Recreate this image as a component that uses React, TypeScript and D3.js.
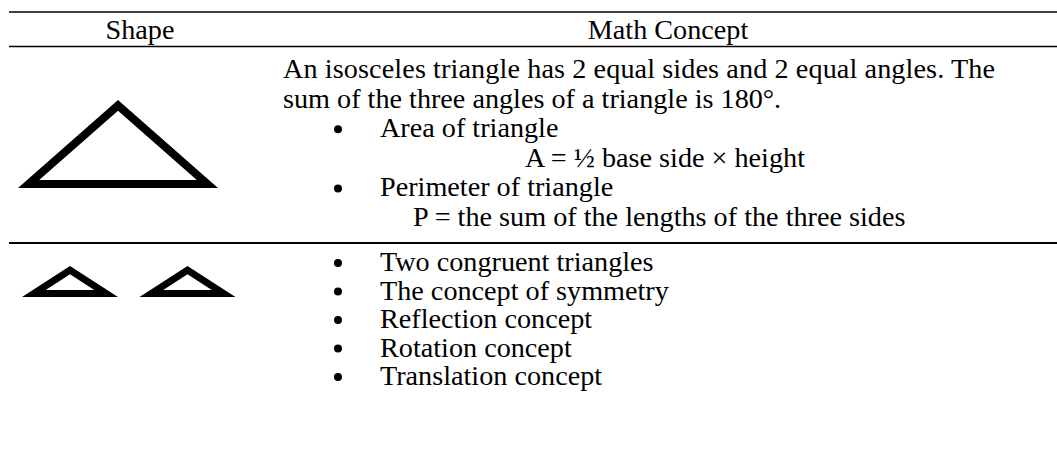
import React from "react";
import * as d3 from "d3";

const W = 1057;
const H = 456;

// ---- content ----
const headers = ["Shape", "Math Concept"];
const row1Paragraph = [
  "An isosceles triangle has 2 equal sides and 2 equal angles. The",
  "sum of the three angles of a triangle is 180°.",
];
const row1Bullets = ["Area of triangle", "Perimeter of triangle"];
const row1Formulas = ["A = ½ base side × height", "P = the sum of the lengths of the three sides"];
const row2Bullets = [
  "Two congruent triangles",
  "The concept of symmetry",
  "Reflection concept",
  "Rotation concept",
  "Translation concept",
];
// triangle icons: centre x, base y, width, height, outline thickness
const triangleIcons = [
  { cx: 118, base: 188, w: 200, h: 88, t: 8 },
  { cx: 70, base: 297, w: 96, h: 31, t: 7 },
  { cx: 187.5, base: 297, w: 96, h: 31, t: 7 },
];

const FONT = '"Liberation Serif", Tinos, "Times New Roman", Times, "DejaVu Serif", serif';
const FS = 28.2;

function trianglePath(cx: number, base: number, w: number, h: number, t: number) {
  const hw = w / 2;
  const side = Math.hypot(hw, h);
  const s = (w + 2 * side) / 2;
  const r = (w * h) / 2 / s;
  const iy = base - r;
  const k = (r - t) / r;
  const p = d3.path();
  p.moveTo(cx - hw, base);
  p.lineTo(cx + hw, base);
  p.lineTo(cx, base - h);
  p.closePath();
  p.moveTo(cx - hw * k, iy + (base - iy) * k);
  p.lineTo(cx + hw * k, iy + (base - iy) * k);
  p.lineTo(cx, iy - (iy - (base - h)) * k);
  p.closePath();
  return p.toString();
}

export default function App() {
  const colX = d3.scaleOrdinal<string, number>().domain(headers).range([140, 668]);
  const row1Y = d3.scaleLinear().domain([0, 5]).range([78, 226]);
  const row2Y = d3.scaleLinear().domain([0, 4]).range([271, 385]);
  const textX = 283;
  const justifyRight = 995;
  const bulletX = 338;
  const bulletTextX = 380;
  const formulaX = [525, 413];

  const row1Lines: { x: number; y: number; text: string; bullet: boolean; justify: boolean }[] = [];
  row1Paragraph.forEach((t, i) =>
    row1Lines.push({ x: textX, y: row1Y(i), text: t, bullet: false, justify: i < row1Paragraph.length - 1 })
  );
  row1Bullets.forEach((t, i) => {
    row1Lines.push({ x: bulletTextX, y: row1Y(2 + i * 2), text: t, bullet: true, justify: false });
    row1Lines.push({ x: formulaX[i], y: row1Y(3 + i * 2), text: row1Formulas[i], bullet: false, justify: false });
  });

  const textStyle = { fontFamily: FONT, fontSize: FS };

  return (
    <svg
      width={W}
      height={H}
      style={{ position: "absolute", left: 0, top: 0, background: "#fff", fontFamily: FONT }}
    >
      <rect width={W} height={H} fill="#fff" />
      <line x1={9} x2={W} y1={12} y2={12} stroke="#000" strokeWidth={1.6} />
      <line x1={9} x2={W} y1={46.5} y2={46.5} stroke="#000" strokeWidth={1.6} />
      <line x1={9} x2={W} y1={243} y2={243} stroke="#000" strokeWidth={2} />
      {headers.map((h) => (
        <text key={h} x={colX(h)} y={39} textAnchor="middle" fill="#000" style={textStyle}>
          {h}
        </text>
      ))}
      {row1Lines.map((l, i) => (
        <g key={"r1" + i}>
          {l.bullet && <circle cx={bulletX} cy={l.y - 8} r={4} fill="#000" />}
          <text
            x={l.x}
            y={l.y}
            fill="#000"
            style={textStyle}
            {...(l.justify ? { textLength: justifyRight - l.x, lengthAdjust: "spacing" } : {})}
          >
            {l.text}
          </text>
        </g>
      ))}
      {row2Bullets.map((t, i) => (
        <g key={"r2" + i}>
          <circle cx={bulletX} cy={row2Y(i) - 8} r={4} fill="#000" />
          <text x={bulletTextX} y={row2Y(i)} fill="#000" style={textStyle}>
            {t}
          </text>
        </g>
      ))}
      {triangleIcons.map((tr, i) => (
        <path
          key={"tri" + i}
          d={trianglePath(tr.cx, tr.base, tr.w, tr.h, tr.t)}
          fill="#000"
          fillRule="evenodd"
        />
      ))}
    </svg>
  );
}
